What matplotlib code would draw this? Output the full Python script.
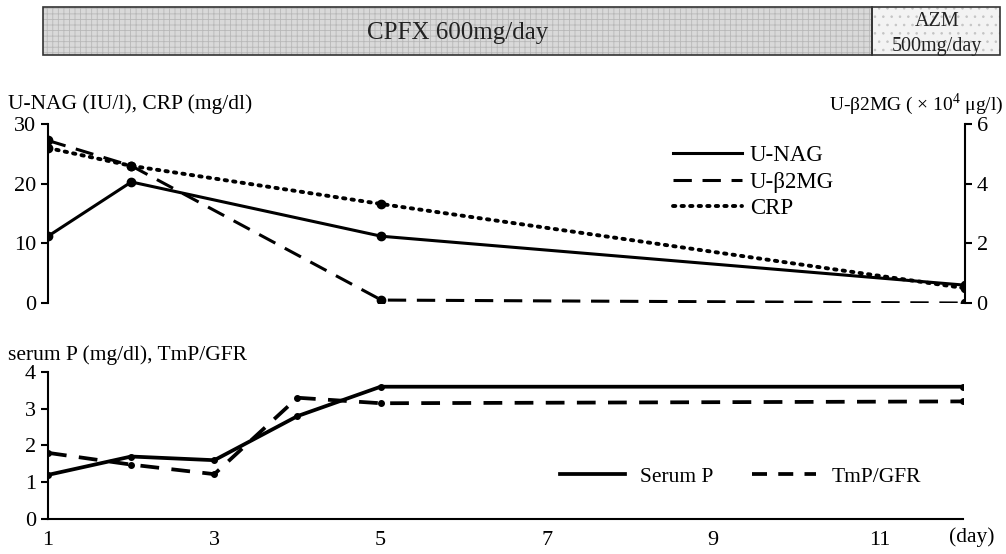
import numpy as np
import matplotlib.pyplot as plt
from matplotlib.lines import Line2D
from matplotlib.patches import Rectangle

plt.rcParams['font.family'] = ['Liberation Serif', 'DejaVu Serif']
plt.rcParams['mathtext.fontset'] = 'custom'
plt.rcParams['mathtext.rm'] = 'Liberation Serif'
plt.rcParams['hatch.linewidth'] = 0.6

# Dias
dias_top = [1, 2, 5, 12]
u_nag = [11.2, 20.3, 11.2, 3.0]
crp = [26.0, 23.0, 16.6, 2.5]
u_b2mg = [5.45, 4.6, 0.1, 0.0]

dias_bot = [1, 2, 3, 4, 5, 12]
serum_p = [1.2, 1.7, 1.6, 2.8, 3.6, 3.6]
tmp_gfr = [1.8, 1.48, 1.22, 3.3, 3.15, 3.2]

x_ticks = [1, 3, 5, 7, 9, 11]

fig = plt.figure(figsize=(10.06, 5.54), dpi=100)

# Barra de tratamento (coordenadas em pixels)
axb = fig.add_axes([0.0, 0.0, 1.0, 1.0])
axb.set_xlim(0, 1006)
axb.set_ylim(554, 0)
axb.axis('off')
axb.add_patch(Rectangle((43, 7), 829, 48, facecolor='#d9d9d9', edgecolor='#b8b8b8', lw=0, hatch='+++'))
axb.add_patch(Rectangle((872, 7), 128, 48, facecolor='#f3f3f3', edgecolor='#c4c4c4', lw=0, hatch='..'))
axb.add_patch(Rectangle((43, 7), 829, 48, fill=False, edgecolor='#333333', lw=1.2))
axb.add_patch(Rectangle((872, 7), 128, 48, fill=False, edgecolor='#333333', lw=1.2))
axb.text(458, 33, "CPFX 600mg/day", ha='center', va='center', fontsize=18, color='#222222')
axb.text(937, 22, "AZM", ha='center', va='center', fontsize=14.5, color='#222222')
axb.text(937, 46, "500mg/day", ha='center', va='center', fontsize=14.5, color='#222222')

lw = 2.2
# Grafico de cima
ax1 = fig.add_axes([0.0477, 0.453, 0.9113, 0.323])
ax1.set_zorder(2)
ax1.patch.set_alpha(0)
ax1.plot(dias_top, u_nag, '-', color='black', lw=lw, marker='o', ms=6)
ax1.plot(dias_top, crp, linestyle=(0, (0.6, 1.6)), dash_capstyle='round', color='black', lw=lw + 0.6, marker='o', ms=6)
ax1.set_xlim(1, 12)
ax1.set_ylim(0, 30)
ax1.set_yticks([0, 10, 20, 30])
ax1.set_xticks([])
for s in ['top', 'bottom', 'right']:
    ax1.spines[s].set_visible(False)
ax1.spines['left'].set_linewidth(1.5)
ax1.tick_params(axis='y', labelsize=16, width=1.5, length=5)

ax2 = ax1.twinx()
ax2.plot(dias_top, u_b2mg, linestyle=(0, (6, 3.5)), color='black', lw=lw, marker='o', ms=6)
ax2.set_ylim(0, 6)
ax2.set_yticks([0, 2, 4, 6])
for s in ['top', 'bottom', 'left']:
    ax2.spines[s].set_visible(False)
ax2.spines['right'].set_linewidth(1.5)
ax2.tick_params(axis='y', labelsize=16, width=1.5, length=5)

fig.text(8 / 1006, 1 - 104 / 554, "U-NAG (IU/l), CRP (mg/dl)", fontsize=15.5, va='center')
fig.text(1004 / 1006, 1 - 104 / 554, "U-β2MG ( × 10$^4$ μg/l)", fontsize=14, va='center', ha='right')

handles = [Line2D([], [], color='black', lw=lw),
           Line2D([], [], color='black', lw=lw, linestyle=(0, (6, 3.5))),
           Line2D([], [], color='black', lw=lw + 0.6, linestyle=(0, (0.6, 1.6)), dash_capstyle='round')]
ax2.legend(handles, ['U-NAG', 'U-β2MG', 'CRP'], loc='upper right', bbox_to_anchor=(0.88, 1.0),
           frameon=False, fontsize=16.5, handlelength=3.0, handletextpad=0.35, labelspacing=0.25)

# Grafico de baixo
ax3 = fig.add_axes([0.0477, 0.0632, 0.9093, 0.2653])
ax3.plot(dias_bot, serum_p, '-', color='black', lw=lw + 0.5, marker='o', ms=4)
ax3.plot(dias_bot, tmp_gfr, linestyle=(0, (5, 3.3)), color='black', lw=lw + 0.5, marker='o', ms=4)
ax3.set_xlim(1, 12)
ax3.set_ylim(0, 4)
ax3.set_yticks([0, 1, 2, 3, 4])
ax3.set_xticks(x_ticks)
for s in ['top', 'right']:
    ax3.spines[s].set_visible(False)
ax3.spines['left'].set_linewidth(1.5)
ax3.spines['bottom'].set_linewidth(1.5)
ax3.tick_params(axis='y', labelsize=16, width=1.5, length=5)
ax3.tick_params(axis='x', labelsize=16, length=0, pad=9)
leg_h = [Line2D([], [], color='black', lw=lw + 0.5),
         Line2D([], [], color='black', lw=lw + 0.5, linestyle=(0, (4, 3)))]
ax3.legend(leg_h, ['Serum P', 'TmP/GFR'], loc='center', bbox_to_anchor=(0.757, 0.286), ncol=2,
           frameon=False, fontsize=15.5, handlelength=3.0, handletextpad=0.7, columnspacing=1.8)
fig.text(8 / 1006, 1 - 355 / 554, "serum P (mg/dl), TmP/GFR", fontsize=15.5, va='center')
fig.text(972 / 1006, 1 - 537 / 554, "(day)", fontsize=15.5, va='center', ha='center')

fig.savefig('out.png', dpi=100)
